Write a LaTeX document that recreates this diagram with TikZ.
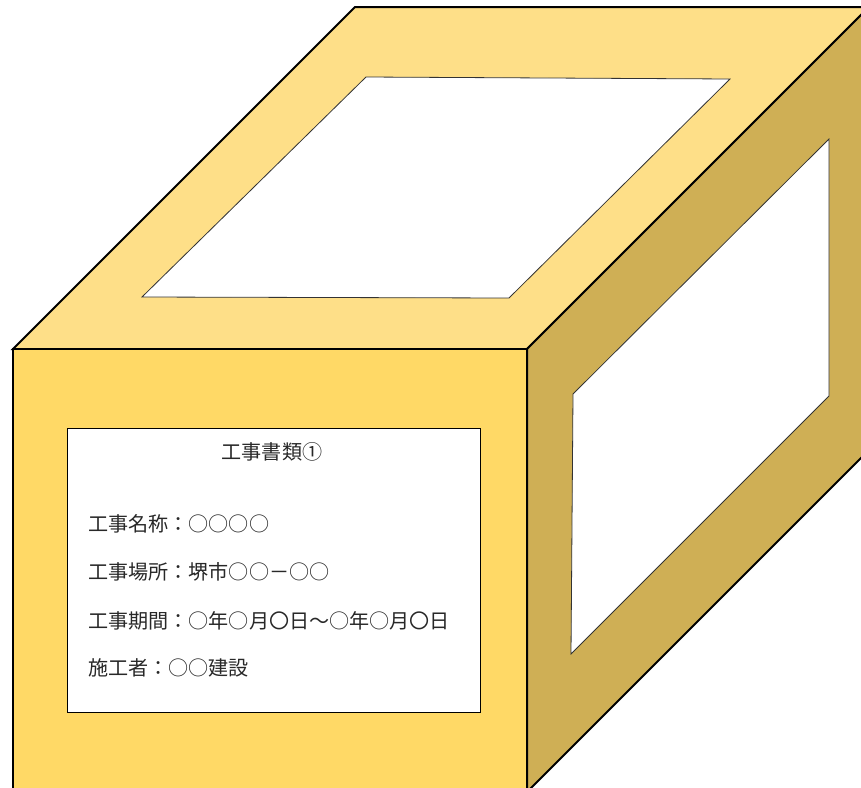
\documentclass[tikz,border=0pt]{standalone}
\usepackage{fontspec}
\newfontfamily\jpfont{Noto Sans CJK JP}
\definecolor{topface}{RGB}{254,223,136}
\definecolor{frontface}{RGB}{255,217,102}
\definecolor{sideface}{RGB}{207,175,85}
\definecolor{inkgrey}{RGB}{40,40,40}
\tikzset{
  edge/.style={draw=black, line width=2pt, line join=miter},
  window/.style={fill=white, draw=black!80, line width=0.8pt, line join=miter},
  labelbox/.style={fill=white, draw=black, line width=0.8pt},
  labeltext/.style={font=\jpfont\fontsize{20.1}{23}\selectfont, text=inkgrey, inner sep=0pt},
}
\begin{document}
\begin{tikzpicture}[x=1pt, y=-1pt]
  \useasboundingbox (0,0) rectangle (861,787);
  \clip (0,0) rectangle (861,787);
  % box corners
  \coordinate (FTL) at (13,349);
  \coordinate (FTR) at (527,349);
  \coordinate (FBL) at (13,792);
  \coordinate (FBR) at (527,792);
  \coordinate (BTL) at (355,7);
  \coordinate (BTR) at (869,7);
  \coordinate (BBR) at (869,450);
  % faces
  \path[edge, fill=topface] (FTL) -- (FTR) -- (BTR) -- (BTL) -- cycle;
  \path[edge, fill=sideface] (FTR) -- (BTR) -- (BBR) -- (FBR) -- cycle;
  \path[edge, fill=frontface] (FTL) -- (FTR) -- (FBR) -- (FBL) -- cycle;
  % openings in the top and side faces
  \path[window] (142,297) -- (509,298) -- (730,79) -- (366,77) -- cycle;
  \path[window] (573,394) -- (829,139) -- (829,396) -- (571,654) -- cycle;
  % document label on the front face
  \path[labelbox] (67,428) rectangle (480,712);
  \node[labeltext] (title) at (272,452) {工事書類①};
  \node[labeltext, anchor=west] (name) at (88,524) {工事名称：○○○○};
  \node[labeltext, anchor=west] (place) at (88,572) {工事場所：堺市○○－○○};
  \node[labeltext, anchor=west] (period) at (88,621) {工事期間：○年○月〇日～○年○月〇日};
  \node[labeltext, anchor=west] (builder) at (88,668) {施工者：○○建設};
\end{tikzpicture}
\end{document}
